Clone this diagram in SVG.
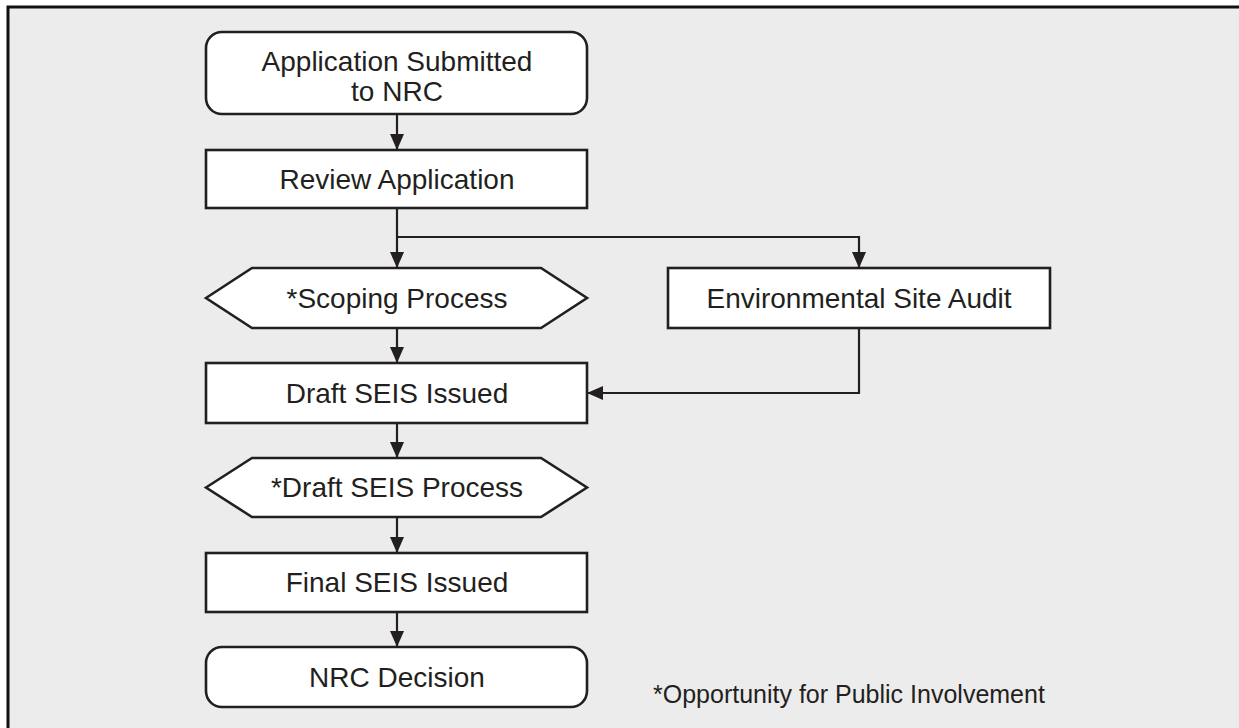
<svg xmlns="http://www.w3.org/2000/svg" width="1239" height="728" viewBox="0 0 1239 728">
<style>
.box{fill:#ffffff;stroke:#231f20;stroke-width:2.6}
.lbl{font-family:"Liberation Sans",Arial,sans-serif;font-size:28px;fill:#231f20;text-anchor:middle}
.note{font-family:"Liberation Sans",Arial,sans-serif;font-size:25px;fill:#231f20}
.conn{fill:none;stroke:#231f20;stroke-width:2.2}
</style>
<defs>
<marker id="arr" viewBox="0 0 16 14" refX="16" refY="7" markerWidth="16" markerHeight="14" markerUnits="userSpaceOnUse" orient="auto">
<path d="M0,0 L16,7 L0,14 z" fill="#231f20"/>
</marker>
</defs>
<rect x="0" y="0" width="1239" height="728" fill="#ffffff"/>
<rect x="8" y="7" width="1245" height="735" fill="#ececec" stroke="#111111" stroke-width="3"/>
<g id="connectors">
<path class="conn" d="M397,114 V150" marker-end="url(#arr)"/>
<path class="conn" d="M397,208 V268" marker-end="url(#arr)"/>
<path class="conn" d="M397,237 H859 V268" marker-end="url(#arr)"/>
<path class="conn" d="M397,328 V363" marker-end="url(#arr)"/>
<path class="conn" d="M859,328 V393 H587" marker-end="url(#arr)"/>
<path class="conn" d="M397,423 V458" marker-end="url(#arr)"/>
<path class="conn" d="M397,517 V553" marker-end="url(#arr)"/>
<path class="conn" d="M397,612 V647" marker-end="url(#arr)"/>
</g>
<g id="application-submitted">
<rect class="box" x="206" y="32" width="381" height="82" rx="16"/>
<text class="lbl" x="397" y="71">Application Submitted</text>
<text class="lbl" x="397" y="101">to NRC</text>
</g>
<g id="review-application">
<rect class="box" x="206" y="150" width="381" height="58"/>
<text class="lbl" x="397" y="189">Review Application</text>
</g>
<g id="scoping-process">
<polygon class="box" points="206,298 252,268 541,268 587,298 541,328 252,328"/>
<text class="lbl" x="397" y="308">*Scoping Process</text>
</g>
<g id="environmental-site-audit">
<rect class="box" x="668" y="268" width="382" height="60"/>
<text class="lbl" x="859" y="308">Environmental Site Audit</text>
</g>
<g id="draft-seis-issued">
<rect class="box" x="206" y="363" width="381" height="60"/>
<text class="lbl" x="397" y="403">Draft SEIS Issued</text>
</g>
<g id="draft-seis-process">
<polygon class="box" points="206,487.5 252,458 541,458 587,487.5 541,517 252,517"/>
<text class="lbl" x="397" y="497">*Draft SEIS Process</text>
</g>
<g id="final-seis-issued">
<rect class="box" x="206" y="553" width="381" height="59"/>
<text class="lbl" x="397" y="592">Final SEIS Issued</text>
</g>
<g id="nrc-decision">
<rect class="box" x="206" y="647" width="381" height="60" rx="16"/>
<text class="lbl" x="397" y="687">NRC Decision</text>
</g>
<g id="footnote">
<text class="note" x="653" y="703">*Opportunity for Public Involvement</text>
</g>
</svg>
